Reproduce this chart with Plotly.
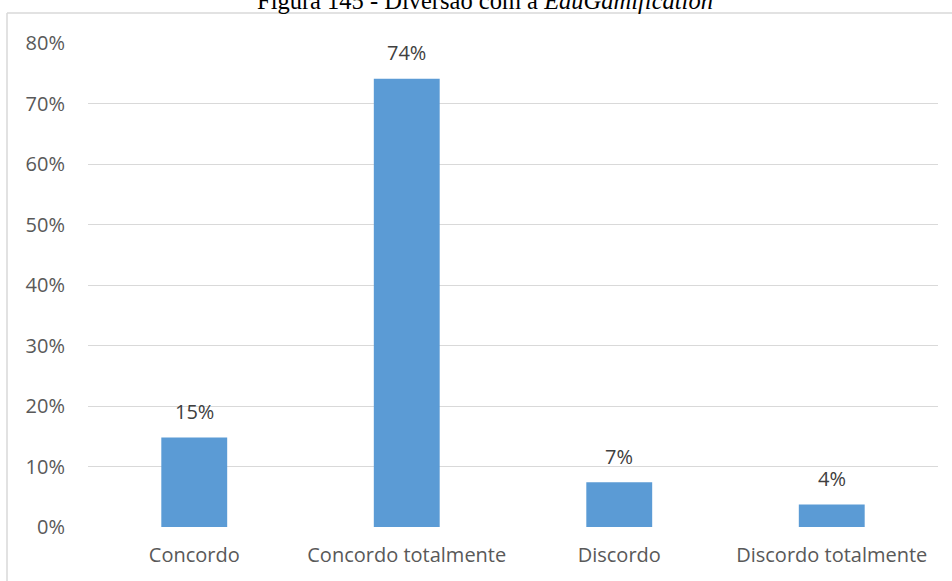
import plotly.graph_objects as go

# Survey answers (share of respondents)
categories = ["Concordo", "Concordo totalmente", "Discordo", "Discordo totalmente"]
shares = [0.148, 0.741, 0.074, 0.037]
tick_values = [0, 0.1, 0.2, 0.3, 0.4, 0.5, 0.6, 0.7, 0.8]
tick_labels = ["0%", "10%", "20%", "30%", "40%", "50%", "60%", "70%", "80%"]

W, H = 952, 581
L, R, T, B = 88, 14, 43, 54
plot_w, plot_h = W - L - R, H - T - B


def px_x(px):
    return (px - L) / plot_w


def px_y(py):
    return (H - B - py) / plot_h


fig = go.Figure(
    go.Bar(
        x=categories,
        y=shares,
        marker=dict(color="#5b9bd5", line=dict(width=0)),
        width=0.31,
        cliponaxis=False,
        hoverinfo="skip",
    )
)

# value labels above each bar
value_labels = [
    dict(
        x=c, y=v, xref="x", yref="y",
        text=f"{v:.0%}",
        xanchor="center", yanchor="middle", yshift=26,
        showarrow=False,
        font=dict(family="Open Sans", size=20, color="#404040"),
    )
    for c, v in zip(categories, shares)
]

frame = "#d9d9d9"
fig.update_layout(
    width=W,
    height=H,
    margin=dict(l=L, r=R, t=T, b=B, pad=0),
    paper_bgcolor="white",
    plot_bgcolor="white",
    showlegend=False,
    xaxis=dict(
        showgrid=False,
        zeroline=False,
        showline=False,
        ticks="",
        tickfont=dict(family="Open Sans", size=20, color="#595959"),
        ticklabelstandoff=14,
    ),
    yaxis=dict(
        range=[0, 0.8],
        tickvals=tick_values,
        ticktext=tick_labels,
        showgrid=True,
        gridcolor=frame,
        gridwidth=1.3,
        zeroline=False,
        showline=False,
        ticks="",
        tickfont=dict(family="Open Sans", size=20, color="#595959"),
        ticklabelstandoff=22,
    ),
    shapes=[
        # outer frame: left edge and top edge
        dict(type="line", xref="paper", yref="paper",
             x0=px_x(7), x1=px_x(7), y0=px_y(13), y1=px_y(H + 5),
             line=dict(color=frame, width=1.5)),
        dict(type="line", xref="paper", yref="paper",
             x0=px_x(7), x1=px_x(W + 5), y0=px_y(13), y1=px_y(13),
             line=dict(color=frame, width=1.5)),
    ],
    annotations=value_labels + [
        dict(
            text="Figura 145 - Diversão com a <i>EduGamification</i>",
            xref="paper", yref="paper",
            x=px_x(485), y=px_y(16),
            xanchor="center", yanchor="bottom",
            showarrow=False,
            font=dict(family="Liberation Serif", size=24.5, color="black"),
        )
    ],
)

fig.write_html("out.html")
